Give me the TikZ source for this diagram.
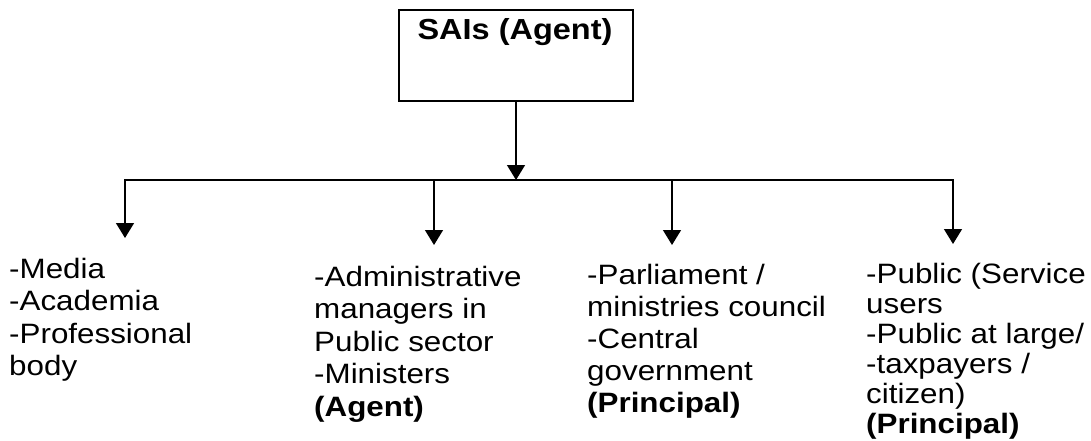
\documentclass[tikz,border=0pt]{standalone}
\usepackage{fontspec}
\setmainfont{Liberation Sans}[FakeStretch=1.12]
\usetikzlibrary{arrows.meta}
\newcommand\txtlines[1]{\begin{tabular}[t]{@{}l@{}}#1\end{tabular}}
\begin{document}
\begin{tikzpicture}[x=1pt,y=-1pt,
  conn/.style={line width=1.4pt},
  arr/.style={conn,-{Triangle[width=18pt,length=15pt]}},
  lbl/.style={inner sep=0pt, anchor=base west},
  saibox/.style={draw, line width=1.3pt, minimum width=234pt, minimum height=91pt, inner sep=0pt}]
\useasboundingbox (0,0) rectangle (1091,441);
\node[saibox] (sai) at (516,55.5) {};
\node[inner sep=0pt, anchor=base, font=\fontsize{29}{32}\selectfont\bfseries] (saititle) at (515,40) {SAIs (Agent)};
\coordinate (j) at (516,180);
\coordinate (b2) at (434,180);
\coordinate (b3) at (672,180);
\coordinate (t1) at (125,238);
\coordinate (t2) at (434,245);
\coordinate (t3) at (672,245);
\coordinate (t4) at (953,244);
\draw[arr] (sai.south) -- (j);
\draw[arr] (j) -| (t1);
\draw[arr] (j) -| (t4);
\draw[arr] (b2) -- (t2);
\draw[arr] (b3) -- (t3);
\node[lbl, font=\fontsize{28}{32.5}\selectfont] (media) at (9,278) {\txtlines{-Media\\-Academia\\-Professional\\body}};
\node[lbl, font=\fontsize{28}{32.5}\selectfont] (admin) at (314,286) {\txtlines{-Administrative\\managers in\\Public sector\\-Ministers\\\textbf{(Agent)}}};
\node[lbl, font=\fontsize{28}{32}\selectfont] (parl) at (587,284) {\txtlines{-Parliament /\\ministries council\\-Central\\government\\\textbf{(Principal)}}};
\node[lbl, font=\fontsize{28}{30}\selectfont] (public) at (866,283) {\txtlines{-Public (Service\\users\\-Public at large/\\-taxpayers /\\citizen)\\\textbf{(Principal)}}};
\end{tikzpicture}
\end{document}
